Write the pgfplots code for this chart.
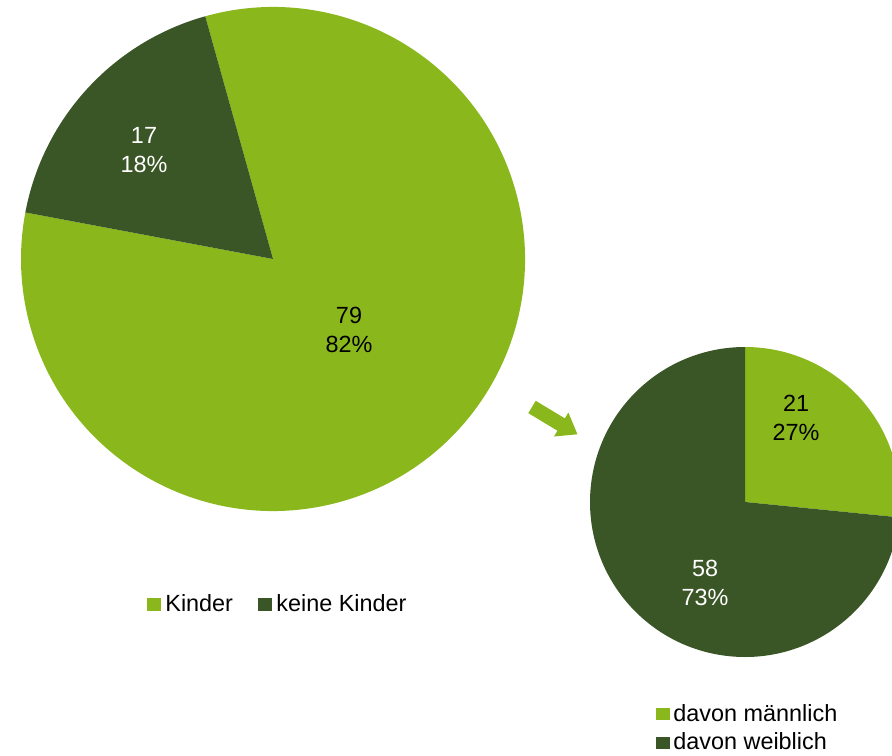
\documentclass[border=0pt]{standalone}
\usepackage{fontspec}
\setmainfont{Liberation Sans}
\usepackage{pgfplots}
\usepackage{pgfplotstable}
\pgfplotsset{compat=1.18}
\definecolor{hell}{HTML}{8AB81C}
\definecolor{dunkel}{HTML}{3A5526}
\tikzset{txt/.style={font=\fontsize{11.7}{14.5}\selectfont, inner sep=0pt}}

\pgfplotstableread{
gruppe anzahl
Kinder 79
keineKinder 17
}\gesamt
\pgfplotstableread{
gruppe anzahl
maennlich 21
weiblich 58
}\kinder

\begin{document}
\begin{tikzpicture}
\pgfplotstablegetelem{0}{anzahl}\of\gesamt \let\ka\pgfplotsretval
\pgfplotstablegetelem{1}{anzahl}\of\gesamt \let\kb\pgfplotsretval
\pgfplotstablegetelem{0}{anzahl}\of\kinder \let\km\pgfplotsretval
\pgfplotstablegetelem{1}{anzahl}\of\kinder \let\kw\pgfplotsretval
% start angles as in the original, slices run clockwise
\pgfmathsetmacro\aS{105.6}
\pgfmathsetmacro\aM{\aS-360*(\ka/(\ka+\kb))}
\pgfmathsetmacro\aE{\aS-360}
\pgfmathsetmacro\bS{90}
\pgfmathsetmacro\bM{\bS-360*(\km/(\km+\kw))}
\pgfmathsetmacro\bE{\bS-360}
\begin{axis}[hide axis, scale only axis, width=446pt, height=377.5pt,
  xmin=0, xmax=892, ymin=0, ymax=755]
% big pie
\fill[hell] (axis cs:273,496) -- ++(\aS:126pt) arc[start angle=\aS, end angle=\aM, radius=126pt] -- cycle;
\fill[dunkel] (axis cs:273,496) -- ++(\aM:126pt) arc[start angle=\aM, end angle=\aE, radius=126pt] -- cycle;
\node[txt, align=center] at (axis cs:349,425) {79\\82\%};
\node[txt, align=center, white] at (axis cs:144,605) {17\\18\%};
% small pie
\fill[hell] (axis cs:745,253) -- ++(\bS:77.5pt) arc[start angle=\bS, end angle=\bM, radius=77.5pt] -- cycle;
\fill[dunkel] (axis cs:745,253) -- ++(\bM:77.5pt) arc[start angle=\bM, end angle=\bE, radius=77.5pt] -- cycle;
\node[txt, align=center] at (axis cs:796,337) {21\\27\%};
\node[txt, align=center, white] at (axis cs:705,172) {58\\73\%};
% arrow
\begin{scope}[shift={(axis cs:532,348)}, rotate=-31]
\fill[hell] (0pt,3.6pt) -- (17pt,3.6pt) -- (17pt,7pt) -- (26.5pt,0pt) -- (17pt,-7pt) -- (17pt,-3.6pt) -- (0pt,-3.6pt) -- cycle;
\end{scope}
% legends
\fill[hell] (axis cs:147,144) rectangle (axis cs:161,157);
\node[txt, anchor=base west] at (axis cs:165,144) {Kinder};
\fill[dunkel] (axis cs:258,144) rectangle (axis cs:272,157);
\node[txt, anchor=base west] at (axis cs:276,144) {keine Kinder};
\fill[hell] (axis cs:656,35) rectangle (axis cs:670,47);
\node[txt, anchor=base west] at (axis cs:673,34) {davon männlich};
\fill[dunkel] (axis cs:656,6) rectangle (axis cs:670,18);
\node[txt, anchor=base west] at (axis cs:673,6) {davon weiblich};
\end{axis}
\pgfresetboundingbox
\useasboundingbox (current axis.south west) rectangle (current axis.north east);
\end{tikzpicture}
\end{document}
